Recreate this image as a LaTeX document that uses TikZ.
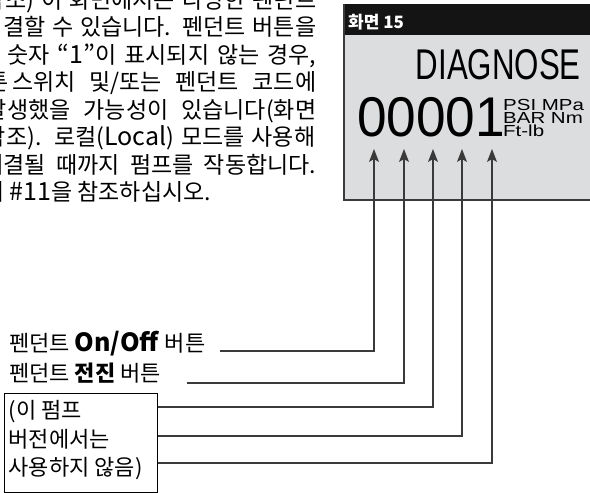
\documentclass[tikz,border=0pt]{standalone}
\usepackage{fontspec}
\usepackage{graphicx}
\usetikzlibrary{arrows.meta}
\newfontfamily\kr{Noto Sans CJK KR}
\newfontfamily\hv{Liberation Sans}
\newcommand\latw[1]{{\fontsize{25}{25}\selectfont #1}}
\definecolor{scrgray}{HTML}{DCDDDF}
\definecolor{ln}{HTML}{3A3A3A}
\begin{document}
\begin{tikzpicture}[x=1pt,y=-1pt,
  para/.style={inner sep=0pt, font=\kr\fontsize{23}{27.5}\selectfont},
  lab/.style={inner sep=0pt, font=\kr\fontsize{22}{28}\selectfont},
  unit/.style={inner sep=0pt, anchor=base west, font=\hv\fontsize{16}{16}\selectfont},
  conn/.style={draw=ln, line width=1.1pt, -{Stealth[length=13pt,width=10pt,inset=3pt]}}]
\useasboundingbox (0,0) rectangle (590,493);
\begin{scope}
\clip (0,0) rectangle (590,493);
% paragraph
\node[para, anchor=base east] (p1a) at (5,8) {참};
\node[para, anchor=base west] (p1) at (5,8) {\makebox[311pt][s]{조) 이 화면에서는 다양한 펜던트}};
\node[para, anchor=base east] (p2a) at (3,35.5) {연};
\node[para, anchor=base west] (p2) at (3,35.5) {\makebox[313pt][s]{결할 수 있습니다. 펜던트 버튼을}};
\node[para, anchor=base west] (p3) at (7.5,63) {\makebox[308.5pt][s]{숫자 \latw{“1”}이 표시되지 않는 경우,}};
\node[para, anchor=base east] (p4a) at (9,90.5) {버튼};
\node[para, anchor=base west] (p4) at (12,90.5) {\makebox[304pt][s]{스위치 및/또는 펜던트 코드에}};
\node[para, anchor=base east] (p5a) at (7,118) {발};
\node[para, anchor=base west] (p5) at (7,118) {\makebox[309pt][s]{생했을 가능성이 있습니다(화면}};
\node[para, anchor=base east] (p6a) at (6,145.5) {참};
\node[para, anchor=base west] (p6) at (6,145.5) {\makebox[309pt][s]{조). 로컬(\latw{Local}) 모드를 사용해}};
\node[para, anchor=base east] (p7a) at (3.5,173) {해};
\node[para, anchor=base west] (p7) at (3.5,173) {\makebox[312.5pt][s]{결될 때까지 펌프를 작동합니다.}};
\node[para, anchor=base east] (p8a) at (4.5,200.5) {페이지};
\node[para, anchor=base west] (p8) at (9.5,200.5) {\latw{\#11}을 참조하십시오.};
% screen
\fill[scrgray] (344,35) rectangle (592,200);
\fill[black!92] (344,4) rectangle (592,35);
\draw[ln, line width=1.1pt] (344,4) -- (344,200) -- (592,200);
\end{scope}
\node[anchor=base west, inner sep=0pt, text=white, font=\kr\bfseries\fontsize{17}{20}\selectfont] (hdr) at (348,28) {화면 15};
\node[anchor=base east, inner sep=0pt, font=\hv\fontsize{43}{43}\selectfont] (diag) at (581,79) {\scalebox{0.727}[1]{DIAGNOSE}};
\node[anchor=base west, inner sep=0pt, font=\hv\fontsize{56}{56}\selectfont] (num) at (357,136) {\scalebox{0.95}[1]{00001}};
\node[unit] (u1) at (503,110) {\scalebox{1.28}[1]{PSI MPa}};
\node[unit] (u2) at (503,123) {\scalebox{1.28}[1]{BAR Nm}};
\node[unit] (u3) at (503,136) {\scalebox{1.28}[1]{Ft-lb}};
% labels
\node[lab, anchor=base west] (l1) at (9,351) {펜던트 \textbf{\latw{On/Off}} 버튼};
\node[lab, anchor=base west] (l2) at (9,381) {펜던트 \textbf{전진} 버튼};
\node[draw=black, line width=1.1pt, inner sep=0pt, minimum width=153pt, minimum height=99pt, anchor=north west] (box) at (4,393) {};
\node[lab, anchor=base west] (b1) at (8.5,418.5) {(이 펌프};
\node[lab, anchor=base west] (b2) at (8.5,447) {버전에서는};
\node[lab, anchor=base west] (b3) at (8.5,475.5) {사용하지 않음)};
% connectors
\coordinate (t1) at (374,149);
\coordinate (t2) at (404,149);
\coordinate (t3) at (433,149);
\coordinate (t4) at (462,149);
\coordinate (t5) at (492,149);
\coordinate (s1) at (220,351);
\coordinate (s2) at (187,383);
\coordinate (y3) at (0,407);
\coordinate (y4) at (0,436);
\coordinate (y5) at (0,463);
\draw[conn] (s1) -| (t1);
\draw[conn] (s2) -| (t2);
\draw[conn] (box.east |- y3) -| (t3);
\draw[conn] (box.east |- y4) -| (t4);
\draw[conn] (box.east |- y5) -| (t5);
\end{tikzpicture}
\end{document}
